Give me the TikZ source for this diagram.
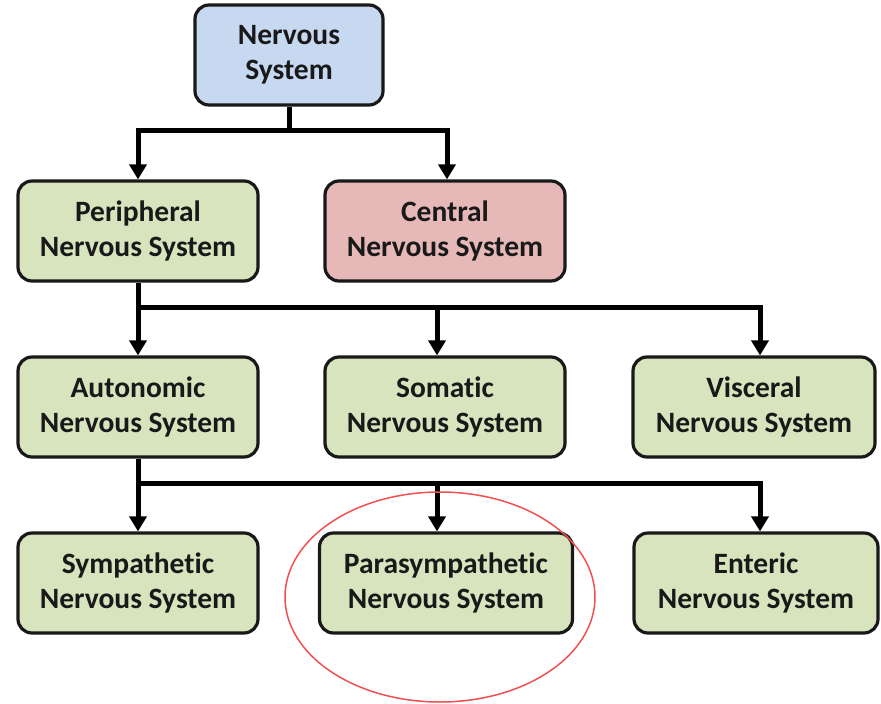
\documentclass[tikz,border=0pt]{standalone}
\usepackage{fontspec}
\setmainfont{Carlito}[Ligatures=NoCommon]
\usepackage{tikz}
\usetikzlibrary{arrows.meta}

\definecolor{boxblue}{RGB}{198,217,241}
\definecolor{boxgreen}{RGB}{215,228,189}
\definecolor{boxred}{RGB}{230,185,184}
\definecolor{ringred}{RGB}{240,80,80}

\tikzset{
    sysbox/.style={draw=black!90, line width=3.2pt, rounded corners=14pt, fill=boxgreen,
        minimum width=240pt, minimum height=100pt, align=center,
        font=\fontsize{29.5}{35}\selectfont\bfseries, text=black!90},
    link/.style={line width=5pt, black},
    arrow/.style={link, -{Triangle[width=17pt,length=15pt]}},
}

\begin{document}
\begin{tikzpicture}[x=1pt,y=-1pt]
    \useasboundingbox (0,0) rectangle (881,704);

    \node[sysbox, fill=boxblue, minimum width=188pt] (ns) at (289,55) {Nervous\\System};

    \node[sysbox] (pns) at (138,231) {Peripheral\\Nervous System};
    \node[sysbox, fill=boxred] (cns) at (445,231) {Central\\Nervous System};

    \node[sysbox] (ans) at (138,407) {Autonomic\\Nervous System};
    \node[sysbox] (sns) at (445,407) {Somatic\\Nervous System};
    \node[sysbox, minimum width=242pt] (vns) at (754,407) {Visceral\\Nervous System};

    \node[sysbox] (sym) at (138,583) {Sympathetic\\Nervous System};
    \node[sysbox, minimum width=253pt] (para) at (446,583) {Parasympathetic\\Nervous System};
    \node[sysbox, minimum width=244pt] (ent) at (756,583) {Enteric\\Nervous System};

    % top level
    \coordinate (j1) at (289,130);
    \draw[link] (ns.south) -- (j1);
    \draw[arrow] (j1) -| (pns.north);
    \draw[arrow] (j1) -| ([xshift=2pt]cns.north);

    % peripheral
    \coordinate (j2) at (138,307);
    \draw[link] (pns.south) -- (j2);
    \draw[arrow] (j2) -- (ans.north);
    \draw[arrow] (j2) -| ([xshift=-8pt]sns.north);
    \draw[arrow] (j2) -| ([xshift=6pt]vns.north);

    % autonomic
    \coordinate (j3) at (138,483);
    \draw[link] (ans.south) -- (j3);
    \draw[arrow] (j3) -- (sym.north);
    \draw[arrow] (j3) -| ([xshift=-9pt]para.north);
    \draw[arrow] (j3) -| ([xshift=4pt]ent.north);

    \draw[ringred, line width=1.5pt] (440,597) ellipse (155 and 105);
\end{tikzpicture}
\end{document}
